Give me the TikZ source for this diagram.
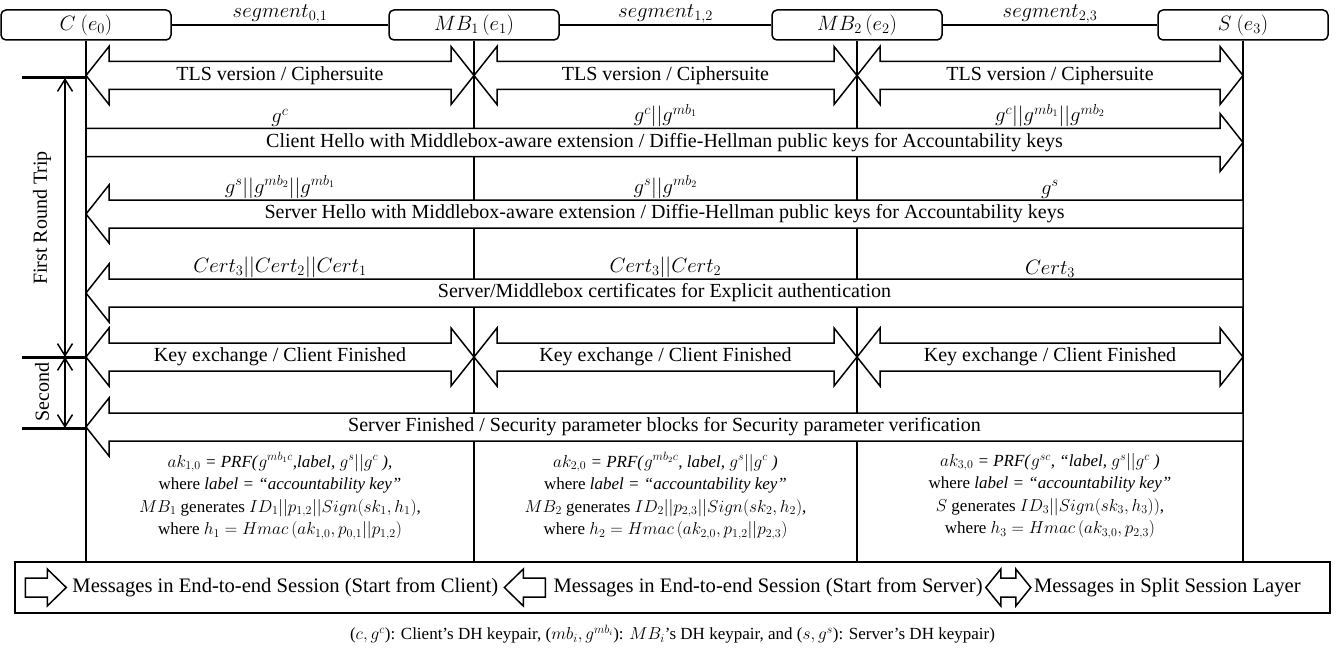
\documentclass[tikz,border=0pt]{standalone}
\usepackage{fontspec}
\setmainfont{Liberation Serif}
\usetikzlibrary{calc,positioning,arrows.meta}

\begin{document}
\begin{tikzpicture}[x=1pt,y=-1pt,font=\fontsize{20}{24}\selectfont]

    % Define styles
    \tikzset{
        entity/.style={draw, line width=1.5pt, rounded corners=5pt, minimum width=170pt, minimum height=30pt, inner sep=0pt},
        life/.style={line width=2pt},
        bar/.style={line width=3pt},
        blockarr/.style={draw, fill=white, line width=1.5pt, line join=miter},
        over/.style={anchor=south, inner sep=1.5pt},
        span/.style={line width=1.5pt, {Straight Barb[length=12pt,width=15pt]}-{Straight Barb[length=12pt,width=15pt]}},
        calcbox/.style={align=center, font=\fontsize{17}{22.5}\selectfont},
        legendtext/.style={inner sep=0pt, anchor=west, font=\fontsize{20.6}{24}\selectfont}
    }

    % one-way message: from, to, height, name, text
    \newcommand{\msg}[5]{
        \coordinate (m1) at (#1 |- 0,#3);
        \coordinate (m2) at (#2 |- 0,#3);
        \filldraw[blockarr] ($(m1)+(0,-14)$) -- ($(m2)!23pt!(m1)+(0,-14)$) -- ($(m2)!23pt!(m1)+(0,-29)$) -- (m2)
            -- ($(m2)!23pt!(m1)+(0,29)$) -- ($(m2)!23pt!(m1)+(0,14)$) -- ($(m1)+(0,14)$) -- cycle;
        \node (#4) at ($(m1)!0.5!(m2)$) {#5};
    }
    % two-way message
    \newcommand{\dmsg}[5]{
        \coordinate (m1) at (#1 |- 0,#3);
        \coordinate (m2) at (#2 |- 0,#3);
        \filldraw[blockarr] (m1) -- ($(m1)!23pt!(m2)+(0,-29)$) -- ($(m1)!23pt!(m2)+(0,-14)$) -- ($(m2)!23pt!(m1)+(0,-14)$)
            -- ($(m2)!23pt!(m1)+(0,-29)$) -- (m2) -- ($(m2)!23pt!(m1)+(0,29)$) -- ($(m2)!23pt!(m1)+(0,14)$)
            -- ($(m1)!23pt!(m2)+(0,14)$) -- ($(m1)!23pt!(m2)+(0,29)$) -- cycle;
        \node (#4) at ($(m1)!0.5!(m2)$) {#5};
    }

    \useasboundingbox (0,0) rectangle (1343,650);

    \node[entity] (C) at (86,25) {$C\ (e_0)$};
    \node[entity] (MB1) at (474,25) {$MB_1\,(e_1)$};
    \node[entity] (MB2) at (857,25) {$MB_2\,(e_2)$};
    \node[entity] (S) at (1243,25) {$S\ (e_3)$};

    \draw[line width=1.5pt] (C) -- node[above=0pt, inner sep=1pt] (seg01) {$segment_{0,1}$} (MB1);
    \draw[line width=1.5pt] (MB1) -- node[above=0pt, inner sep=1pt] (seg12) {$segment_{1,2}$} (MB2);
    \draw[line width=1.5pt] (MB2) -- node[above=0pt, inner sep=1pt] (seg23) {$segment_{2,3}$} (S);

    \node[draw, line width=1.5pt, minimum width=1315pt, minimum height=51pt] (legend) at (672.5,587.5) {};

    \draw[life] (C.south) -- (C.south |- legend.north);
    \draw[life] (MB1.south) -- (MB1.south |- legend.north);
    \draw[life] (MB2.south) -- (MB2.south |- legend.north);
    \draw[life] (S.south) -- (S.south |- legend.north);

    %-------------
    % First round trip
    \dmsg{C}{MB1}{75.5}{tls1}{TLS version / Ciphersuite}
    \dmsg{MB1}{MB2}{75.5}{tls2}{TLS version / Ciphersuite}
    \dmsg{MB2}{S}{75.5}{tls3}{TLS version / Ciphersuite}

    \msg{C}{S}{142.5}{chello}{Client Hello with Middlebox-aware extension / Diffie-Hellman public keys for Accountability keys}
    \node[over] (ch1) at (280,128.5) {$g^c$};
    \node[over] (ch2) at (665.5,128.5) {$g^c||g^{mb_1}$};
    \node[over] (ch3) at (1050,128.5) {$g^c||g^{mb_1}||g^{mb_2}$};

    \msg{S}{C}{214}{shello}{Server Hello with Middlebox-aware extension / Diffie-Hellman public keys for Accountability keys}
    \node[over] (sh1) at (280,200) {$g^s||g^{mb_2}||g^{mb_1}$};
    \node[over] (sh2) at (665.5,200) {$g^s||g^{mb_2}$};
    \node[over] (sh3) at (1050,200) {$g^s$};

    \msg{S}{C}{293}{cert}{Server/Middlebox certificates for Explicit authentication}
    \node[over] (ce1) at (280,279) {$Cert_3||Cert_2||Cert_1$};
    \node[over] (ce2) at (665.5,279) {$Cert_3||Cert_2$};
    \node[over] (ce3) at (1050,279) {$Cert_3$};

    %-------------
    % Second
    \dmsg{C}{MB1}{357}{kex1}{Key exchange / Client Finished}
    \dmsg{MB1}{MB2}{357}{kex2}{Key exchange / Client Finished}
    \dmsg{MB2}{S}{357}{kex3}{Key exchange / Client Finished}

    \msg{S}{C}{427}{sfin}{Server Finished / Security parameter blocks for Security parameter verification}

    \node[calcbox] (ak1) at (280,496) {$ak_{1,0}$\textit{ = PRF(}$g^{mb_1c}$\textit{,label, }$g^s||g^c$\textit{ ),}\\
        where \textit{label = “accountability key”}\\
        $MB_1$ generates $ID_1||p_{1,2}||Sign(sk_1,h_1)$,\\
        where $h_1=Hmac\left(ak_{1,0},p_{0,1}||p_{1,2}\right)$};
    \node[calcbox] (ak2) at (665.5,496) {$ak_{2,0}$\textit{ = PRF(}$g^{mb_2c}$\textit{, label, }$g^s||g^c$\textit{ )}\\
        where \textit{label = “accountability key”}\\
        $MB_2$ generates $ID_2||p_{2,3}||Sign(sk_2,h_2)$,\\
        where $h_2=Hmac\left(ak_{2,0},p_{1,2}||p_{2,3}\right)$};
    \node[calcbox] (ak3) at (1050,496) {$ak_{3,0}$\textit{ = PRF(}$g^{sc}$\textit{, “label, }$g^s||g^c$\textit{ )}\\
        where \textit{label = “accountability key”}\\
        $S$ generates $ID_3||Sign(sk_3,h_3))$,\\
        where $h_3=Hmac\left(ak_{3,0},p_{2,3}\right)$};

    %-------------
    % Round trip marks
    \coordinate (k0) at (22,78);
    \coordinate (k1) at (22,357);
    \coordinate (k2) at (22,428);
    \draw[bar] (k0) -- (k0 -| C);
    \draw[bar] (k1) -- (k1 -| C);
    \draw[bar] (k2) -- (k2 -| C);
    \draw[span] ([xshift=43pt]k0) -- ([xshift=43pt]k1);
    \draw[span] ([xshift=43pt]k1) -- ([xshift=43pt]k2);
    \node[rotate=90] (frt) at (42,218) {First Round Trip};
    \node[rotate=90] (snd) at (42,392) {Second};

    %-------------
    % Legend
    \node[legendtext] (lg1) at ([xshift=58pt]legend.west) {Messages in End-to-end Session (Start from Client)};
    \node[legendtext, right=55pt of lg1] (lg2) {Messages in End-to-end Session (Start from Server)};
    \node[legendtext, right=51pt of lg2] (lg3) {Messages in Split Session Layer};

    \draw[blockarr] ([xshift=-47pt]lg1.west) ++(0,-9.5) -- ++(22,0) -- ++(0,-9) -- ++(19,18.5) -- ++(-19,18.5) -- ++(0,-9) -- ++(-22,0) -- cycle;
    \draw[blockarr] ([xshift=6pt]lg1.east) -- ++(19,-18.5) -- ++(0,9) -- ++(22,0) -- ++(0,19) -- ++(-22,0) -- ++(0,9) -- cycle;
    \draw[blockarr] ([xshift=3pt]lg2.east) -- ++(15,-18.5) -- ++(0,9) -- ++(15,0) -- ++(0,-9) -- ++(15,18.5) -- ++(-15,18.5) -- ++(0,-9) -- ++(-15,0) -- ++(0,9) -- cycle;

    \node[below=8pt of legend, font=\fontsize{17}{21}\selectfont] (note) {($c,g^c$): Client’s DH keypair, ($mb_i,g^{mb_i}$): $MB_i$’s DH keypair, and ($s,g^s$): Server’s DH keypair)};

\end{tikzpicture}
\end{document}
